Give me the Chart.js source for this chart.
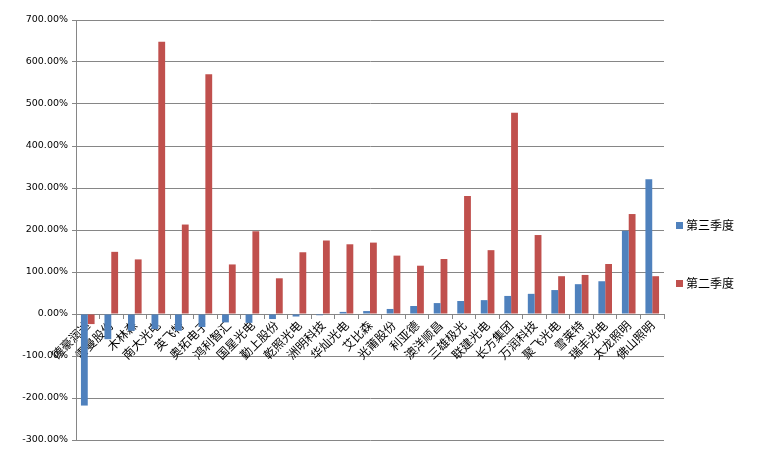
<!DOCTYPE html>
<html>
<head>
<meta charset="utf-8">
<script src="https://cdn.jsdelivr.net/npm/chart.js@4"></script>
<style>
  html, body { margin: 0; padding: 0; background: #fff; }
  #wrap { position: relative; width: 764px; height: 471px; }
  #legend { position: absolute; left: 676px; top: 215px; font: 12px "Noto Sans CJK SC", sans-serif; color: #000; }
  #legend div { height: 58px; line-height: 20px; display: flex; align-items: flex-start; }
  #legend span.box { display: inline-block; width: 7px; height: 7px; margin: 7px 3px 0 0; }
</style>
</head>
<body>
<div id="wrap">
  <canvas id="chart" width="764" height="471"></canvas>
  <div id="legend"></div>
</div>
<script>
// companies on the x axis
const companies = ["德豪润达", "雷曼股份", "木林森", "南大光电", "英飞特", "奥拓电子", "鸿利智汇", "国星光电",
  "勤上股份", "乾照光电", "洲明科技", "华灿光电", "艾比森", "光莆股份", "利亚德", "澳洋顺昌",
  "三雄极光", "联建光电", "长方集团", "万润科技", "聚飞光电", "雪莱特", "瑞丰光电", "太龙照明", "佛山照明"];

// growth, percent
const q3 = [-218, -60, -40, -36, -40, -31, -20, -21, -12, -6, -3, 5, 7, 12, 19, 26,
  31, 33, 43, 48, 57, 71, 78, 198, 321];
const q2 = [-24, 148, 130, 648, 213, 571, 118, 197, 85, 147, 175, 166, 170, 139, 115, 131,
  281, 152, 479, 188, 90, 93, 119, 238, 90];

const seriesNames = ["第三季度", "第二季度"];
const seriesColors = ["#4F81BD", "#C0504D"];

const yTicks = [-300, -200, -100, 0, 100, 200, 300, 400, 500, 600, 700];

const GRID = "#868686";

// html legend
const legendEl = document.getElementById("legend");
seriesNames.forEach((name, i) => {
  const d = document.createElement("div");
  d.innerHTML = `<span class="box" style="background:${seriesColors[i]}"></span>${name}`;
  legendEl.appendChild(d);
});

new Chart(document.getElementById("chart").getContext("2d"), {
  type: "bar",
  data: {
    labels: companies,
    datasets: [
      { label: seriesNames[0], data: q3, backgroundColor: seriesColors[0] },
      { label: seriesNames[1], data: q2, backgroundColor: seriesColors[1] }
    ]
  },
  options: {
    responsive: false,
    animation: false,
    layout: { padding: { left: 0, top: 20, right: 100, bottom: 31 } },
    datasets: { bar: { categoryPercentage: 0.58, barPercentage: 1 } },
    plugins: { legend: { display: false }, tooltip: { enabled: false } },
    scales: {
      x: {
        position: { y: 0 },
        offset: true,
        grid: { display: true, drawOnChartArea: false, drawTicks: true, tickLength: 4, offset: true, color: GRID },
        border: { display: true, color: GRID },
        ticks: {
          autoSkip: false, minRotation: 45, maxRotation: 45, padding: 0, color: "#000",
          font: { family: "'Noto Sans CJK SC'", size: 12 }
        }
      },
      y: {
        min: -300, max: 700,
        afterBuildTicks: (axis) => { axis.ticks = yTicks.map(v => ({ value: v })); },
        afterFit: (axis) => { axis.width = 76; },
        grid: { color: GRID, tickLength: 4 },
        border: { display: true, color: GRID },
        ticks: {
          padding: 4, color: "#000",
          font: { family: "'DejaVu Sans'", size: 9.5 },
          callback: (v) => v.toFixed(2) + "%"
        }
      }
    }
  }
});
</script>
</body>
</html>
